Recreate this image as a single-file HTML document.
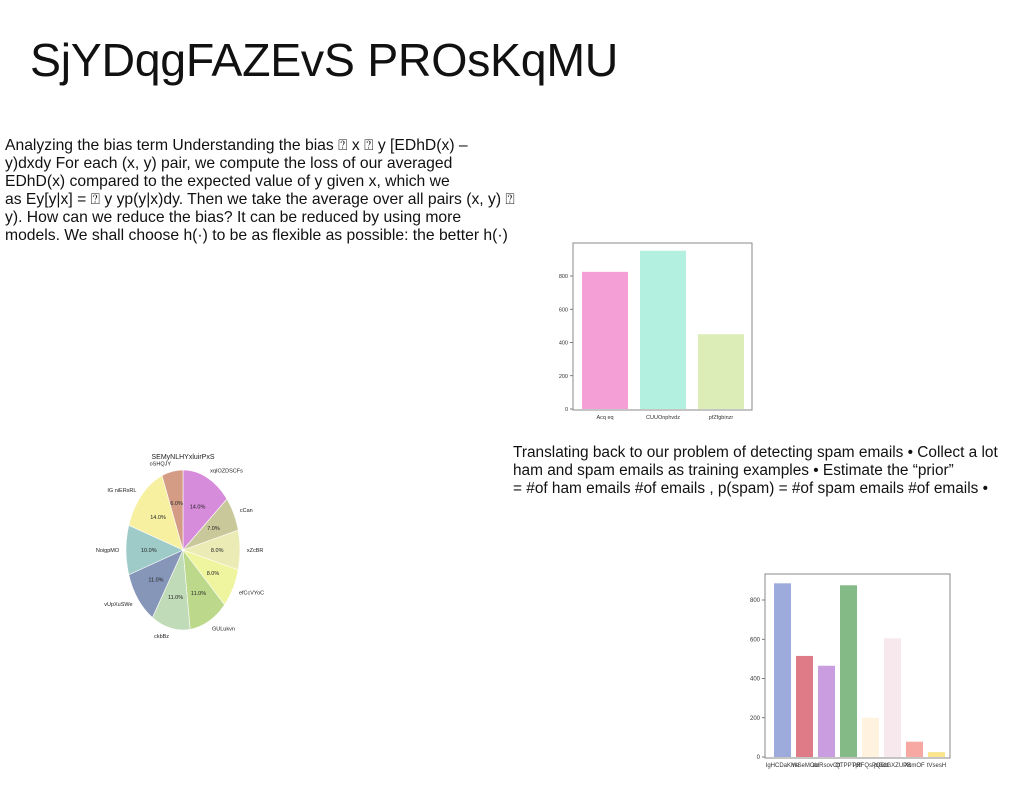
<!DOCTYPE html>
<html><head><meta charset="utf-8"><style>
body{margin:0;width:1024px;height:788px;background:#fff;position:relative;overflow:hidden;font-family:"Liberation Sans",sans-serif;}
.t{position:absolute;color:#111;white-space:nowrap;}
</style></head><body>
<div class="t" style="left:30px;top:33px;font-size:46.5px;letter-spacing:-0.3px;">SjYDqgFAZEvS PROsKqMU</div>
<div class="t" style="left:5px;top:137px;font-size:15.7px;line-height:18px;">Analyzing the bias term Understanding the bias ⍰ x ⍰ y [EDhD(x) –<br>y)dxdy For each (x, y) pair, we compute the loss of our averaged<br>EDhD(x) compared to the expected value of y given x, which we<br>as Ey[y|x] = ⍰ y yp(y|x)dy. Then we take the average over all pairs (x, y) ⍰<br>y). How can we reduce the bias? It can be reduced by using more<br>models. We shall choose h(·) to be as flexible as possible: the better h(·)</div>
<div class="t" style="left:513px;top:444px;font-size:15.4px;line-height:18px;">Translating back to our problem of detecting spam emails • Collect a lot<br>ham and spam emails as training examples • Estimate the “prior”<br>= #of ham emails #of emails , p(spam) = #of spam emails #of emails •</div>
<svg width="1024" height="788" style="position:absolute;left:0;top:0" id="svg" font-family="Liberation Sans, sans-serif"></svg>
<script>
const bar1Cats=["Acq eq","CUUOnphvdz","pfZfgbinzr"];
const bar1Vals=[825,952,450];
const bar1Ticks=[0,200,400,600,800];
const bar2Cats=["IgHCDaKMe","mlSeMOb","adRsovCtt","QTPPTpfl","PRFQsPQGd","piGdGXZUPB","XcmOF","tVsesH"];
const bar2Vals=[885,515,465,875,200,605,78,25];
const bar2Ticks=[0,200,400,600,800];
const pieLabels=["xqIOZDSCFs","cCan","xZcBR","efCcVYoC","GULukvn","ckbBz","vUpXuSWe","NoigpMO","IG niERsRL","oSHQJY"];
const pieVals=[14,7,8,8,11,11,11,10,14,6];
const svg=document.getElementById('svg');const NS='http://www.w3.org/2000/svg';
function mk(t,a,p){const e=document.createElementNS(NS,t);for(const k in a)e.setAttribute(k,a[k]);(p||svg).appendChild(e);return e;}
function barChart(name,cats,vals,ticks,colors,x0,y0,x1,y1,zeroY,per800,bw,step,firstX,fs){
  const g=mk('g',{});
  
  
  const y=v=>zeroY-v/800*per800;
  cats.forEach((c,i)=>{
    const r=mk('rect',{x:firstX+i*step,y:y(vals[i]),width:bw,height:zeroY-y(vals[i]),fill:colors[i]},g);
    
    
    const t=mk('text',{x:firstX+i*step+bw/2,y:y1+9,'font-size':fs,'text-anchor':'middle',fill:'#333'},g);t.textContent=c;
    
    
  });
  ticks.forEach(v=>{
    mk('line',{x1:x0-3,x2:x0,y1:y(v),y2:y(v),stroke:'#444','stroke-width':0.7},g);
    const t=mk('text',{x:x0-5,y:y(v)+2,'font-size':fs,'text-anchor':'end',fill:'#333'},g);t.textContent=v;
    
    
  });
  mk('rect',{x:x0,y:y0,width:x1-x0,height:y1-y0,fill:'none',stroke:'#888','stroke-width':1},g);
}
barChart('bar-chart-top',bar1Cats,bar1Vals,bar1Ticks,['#f49fd6','#b3f0e0','#ddedb8'],573,243,752,410,409,133,46,58,582,5.5);
barChart('bar-chart-bottom',bar2Cats,bar2Vals,bar2Ticks,['#9cabdb','#de7b86','#c99ddf','#84ba86','#fff2df','#f7e8ee','#f8a8a2','#fbe58f'],765,574,950,758,757,157,17,22,774,6);
const cols=['#d68bdb','#c8c89a','#ebebb6','#eef59e','#bcd88a','#c0dbb8','#8696b8','#9ecbc8','#f6f0a0','#d49c84'];
const cx=183,cy=550,rx=57,ry=80;
const pg=mk('g',{});


const tt=mk('text',{x:183,y:459,'font-size':7,'text-anchor':'middle',fill:'#222'},pg);tt.textContent='SEMyNLHYxluirPxS';


const tot=pieVals.reduce((a,b)=>a+b,0);let acc=0;
pieVals.forEach((v,i)=>{
  const a0=Math.PI/2-acc/tot*2*Math.PI;acc+=v;const a1=Math.PI/2-acc/tot*2*Math.PI;
  const p=a=>[cx+rx*Math.cos(a),cy-ry*Math.sin(a)];
  const s=p(a0),e=p(a1);const large=(a0-a1)>Math.PI?1:0;
  const w=mk('path',{d:`M${cx},${cy}L${s[0]},${s[1]}A${rx},${ry} 0 ${large} 1 ${e[0]},${e[1]}Z`,fill:cols[i],stroke:'#fff','stroke-width':0.6},pg);
  
  
  const m=(a0+a1)/2;
  const pt=mk('text',{x:cx+0.6*rx*Math.cos(m),y:cy-0.6*ry*Math.sin(m)+2,'font-size':5.5,'text-anchor':'middle',fill:'#222'},pg);pt.textContent=v.toFixed(1)+'%';
  
  
  const lx=cx+1.12*rx*Math.cos(m),ly=cy-1.1*ry*Math.sin(m)+2;
  const lt=mk('text',{x:lx,y:ly,'font-size':5.5,'text-anchor':Math.cos(m)>0.05?'start':(Math.cos(m)<-0.05?'end':'middle'),fill:'#222'},pg);lt.textContent=pieLabels[i];
  
  
});
</script>
</body></html>
